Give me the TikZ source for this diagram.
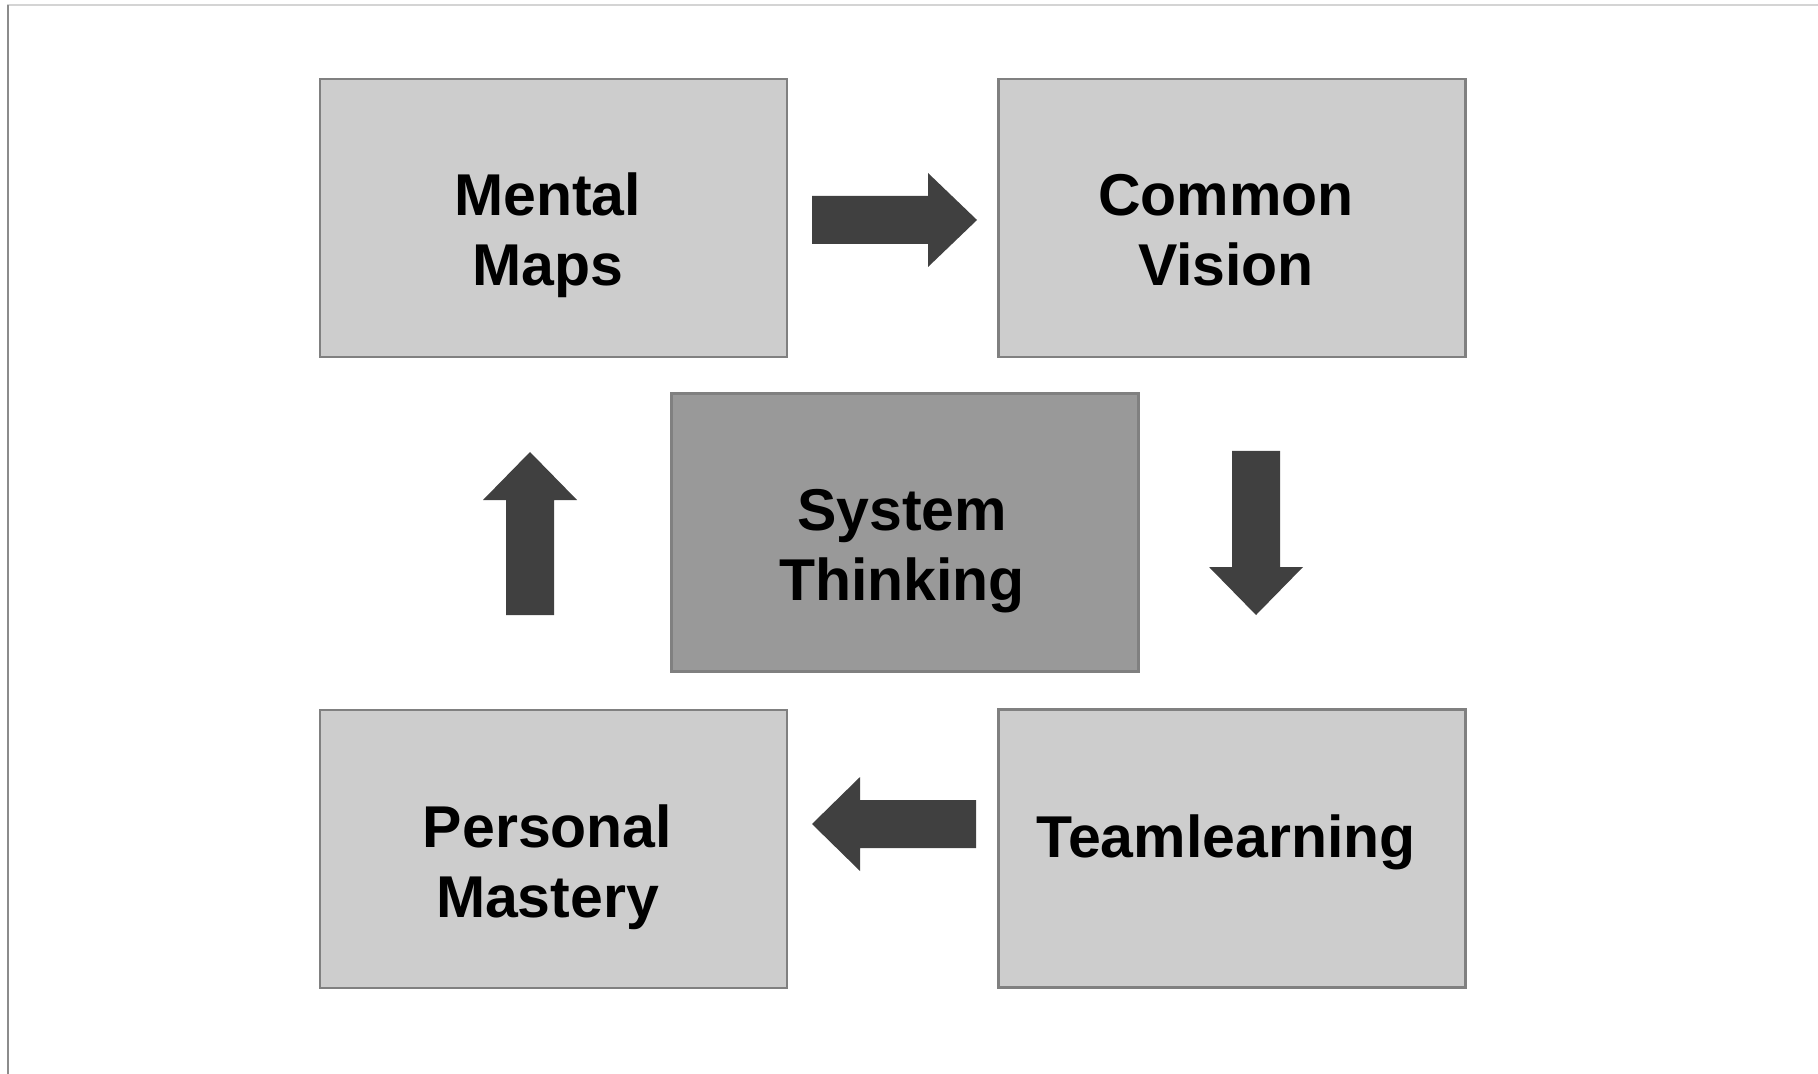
\documentclass[tikz,border=0pt]{standalone}
\usepackage{fontspec}
\setmainfont{Liberation Sans}
\usetikzlibrary{calc}
\definecolor{boxfill}{RGB}{205,205,205}
\definecolor{midfill}{RGB}{153,153,153}
\definecolor{boxline}{RGB}{128,128,128}
\definecolor{arrowcol}{RGB}{64,64,64}
\definecolor{frametop}{RGB}{212,212,212}
\definecolor{frameleft}{RGB}{140,140,140}
\begin{document}
\begin{tikzpicture}[x=0.5pt,y=-0.5pt,
  box/.style={draw=boxline, fill=boxfill, line width=1.25pt, minimum width=233.5pt, minimum height=139pt, inner sep=0pt},
  midbox/.style={box, fill=midfill},
  lbl/.style={anchor=base, inner sep=0pt, font=\fontsize{29.5}{35}\selectfont\bfseries},
  blk/.style={fill=arrowcol}]
\useasboundingbox (0,0) rectangle (1818,1074);
\fill[white] (0,0) rectangle (1818,1074);
% frame
\draw[frametop, line width=1pt] (7,5.5) -- (1818,5.5);
\draw[frameleft, line width=1pt] (7.5,5) -- (7.5,1074);
% boxes
\node[box] (mm) at (553.5,218) {};
\node[box] (cv) at (1232,218) {};
\node[midbox] (st) at (905,532.5) {};
\node[box] (pm) at (553.5,849) {};
\node[box] (tl) at (1232,848.5) {};
% labels
\node[lbl] (mm1) at ($(mm.center)+(-6,-2)$) {Mental};
\node[lbl] (mm2) at ($(mm.center)+(-6,68)$) {Maps};
\node[lbl] (cv1) at ($(cv.center)+(-6,-2)$) {Common};
\node[lbl] (cv2) at ($(cv.center)+(-6,68)$) {Vision};
\node[lbl] (st1) at ($(st.center)+(-3,-2)$) {System};
\node[lbl] (st2) at ($(st.center)+(-3,68)$) {Thinking};
\node[lbl] (pm1) at ($(pm.center)+(-6,-2)$) {Personal};
\node[lbl] (pm2) at ($(pm.center)+(-6,68)$) {Mastery};
\node[lbl] (tl1) at ($(tl.center)+(-6,8.5)$) {Teamlearning};
% block arrows
\fill[blk] (812,196) -- (928,196) -- (928,173) -- (977,220) -- (928,267) -- (928,244) -- (812,244) -- cycle;
\fill[blk] (1232,451) -- (1280,451) -- (1280,567) -- (1303,567) -- (1256,615) -- (1209,567) -- (1232,567) -- cycle;
\fill[blk] (976,800) -- (976,848) -- (860,848) -- (860,871) -- (812,824) -- (860,777) -- (860,800) -- cycle;
\fill[blk] (506,615) -- (506,500) -- (483,500) -- (530,452) -- (577,500) -- (554,500) -- (554,615) -- cycle;
\end{tikzpicture}
\end{document}
